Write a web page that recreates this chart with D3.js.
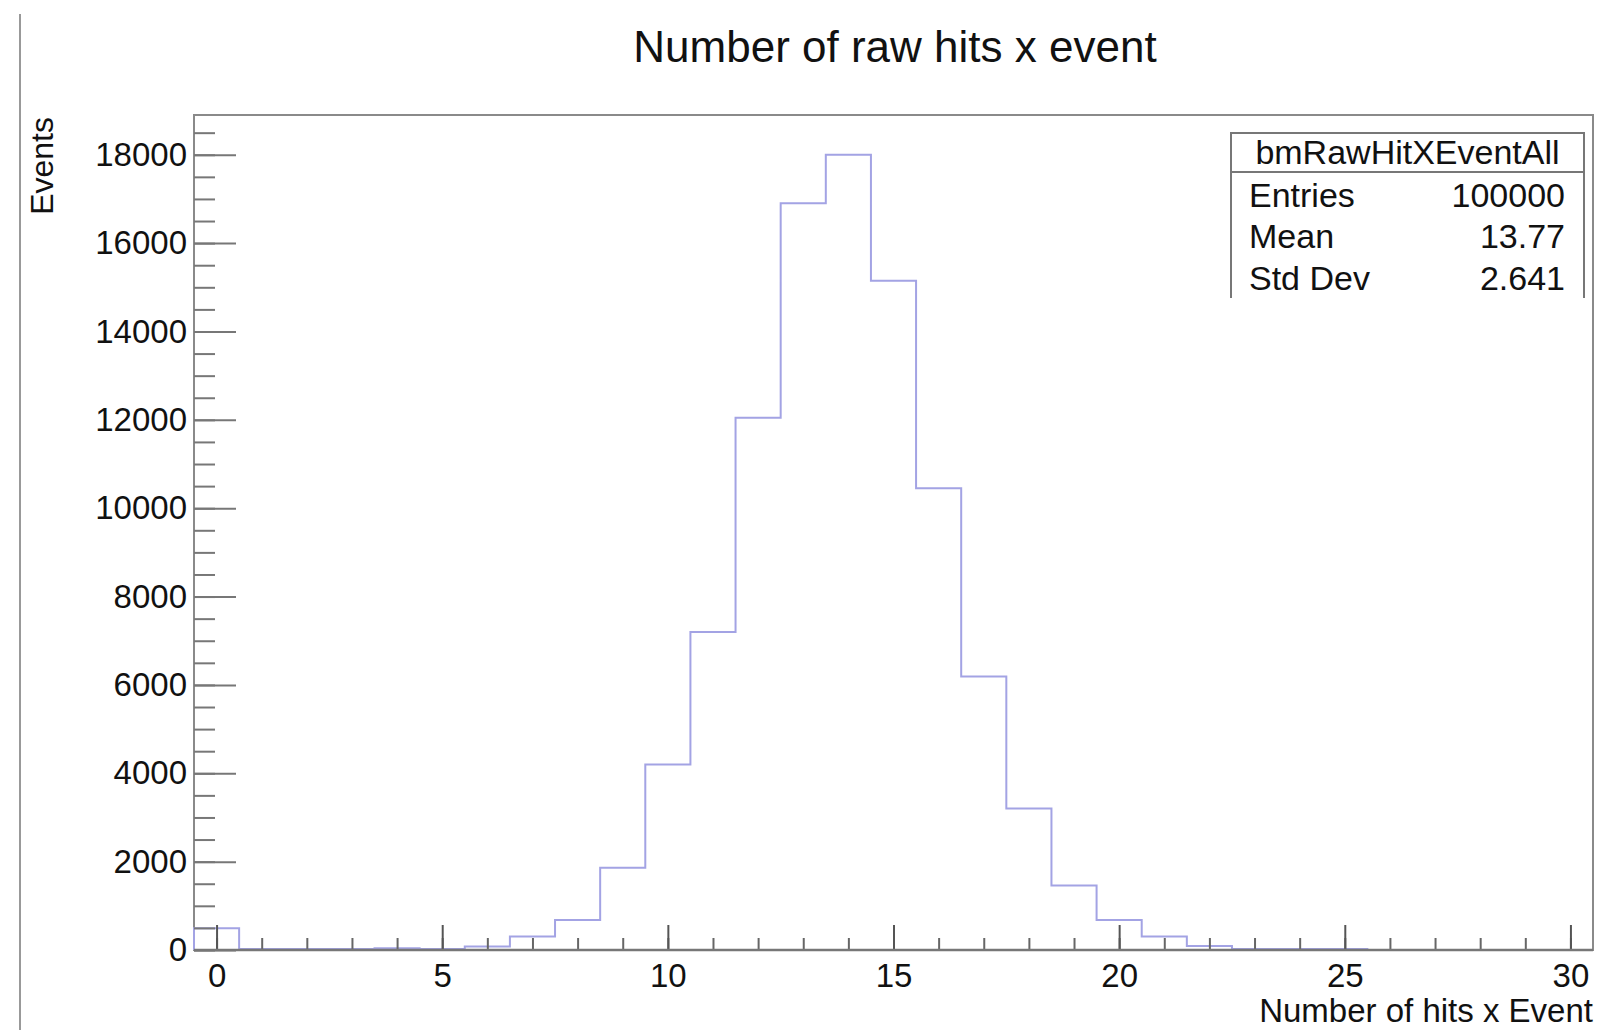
<!DOCTYPE html>
<html>
<head>
<meta charset="utf-8">
<script src="https://cdn.jsdelivr.net/npm/d3@7"></script>
<style>
  body { margin: 0; background: #fff; }
  svg { display: block; font-family: "Liberation Sans", Arial, Helvetica, sans-serif; }
</style>
</head>
<body>
<div id="chart"></div>
<script>
// Histogram bins (bin centres) and counts
const binCenters = d3.range(0, 31);
const counts = [490, 20, 20, 20, 40, 20, 80, 305, 680, 1860,
  4200, 7200, 12050, 16900, 18000, 15150, 10450, 6190, 3200, 1460,
  680, 305, 90, 25, 25, 25, 0, 0, 0, 0, 0];

const xMajorTicks = [0, 5, 10, 15, 20, 25, 30];
const xMinorTicks = d3.range(0, 31);
const yMajorTicks = d3.range(0, 18001, 2000);
const yMinorTicks = d3.range(0, 18901, 500);

const statsTitle = "bmRawHitXEventAll";
const statsRows = [["Entries", "100000"], ["Mean", "13.77"], ["Std Dev", "2.641"]];

const width = 1599, height = 1030;
const frame = { left: 194, right: 1593, top: 115, bottom: 950 };

const svg = d3.select("#chart").append("svg")
  .attr("width", width)
  .attr("height", height);

// Scales
const x = d3.scaleLinear().domain([-0.5, 30.5]).range([frame.left, frame.right]);
const y = d3.scaleLinear().domain([0, 18900]).range([frame.bottom, frame.top]);

// left page border line
svg.append("line")
  .attr("x1", 20).attr("x2", 20)
  .attr("y1", 14).attr("y2", height)
  .attr("stroke", "#999")
  .attr("stroke-width", 2);

// Title
svg.append("text")
  .attr("x", 895)
  .attr("y", 62)
  .attr("text-anchor", "middle")
  .style("font-size", "44px")
  .attr("fill", "#111")
  .text("Number of raw hits x event");

// Frame
svg.append("rect")
  .attr("x", frame.left)
  .attr("y", frame.top)
  .attr("width", frame.right - frame.left)
  .attr("height", frame.bottom - frame.top)
  .attr("fill", "none")
  .attr("stroke", "#8a8a8a")
  .attr("stroke-width", 2);

// Histogram outline
const pts = binCenters.map((c, i) => [c - 0.5, counts[i]]);
pts.unshift([-0.5, 0]);
pts.push([30.5, counts[counts.length - 1]]);
pts.push([30.5, 0]);

const line = d3.line()
  .x(d => x(d[0]))
  .y(d => y(d[1]))
  .curve(d3.curveStepAfter);

svg.append("path")
  .datum(pts)
  .attr("d", line)
  .attr("fill", "none")
  .attr("stroke", "#a3a3e4")
  .attr("stroke-width", 2);

// Minor ticks
svg.append("g")
  .attr("transform", `translate(${frame.left},0)`)
  .call(d3.axisLeft(y).tickValues(yMinorTicks).tickSize(-21).tickFormat(""))
  .call(g => g.select(".domain").remove())
  .selectAll("line").attr("stroke", "#777").attr("stroke-width", 2);

svg.append("g")
  .attr("transform", `translate(0,${frame.bottom})`)
  .call(d3.axisBottom(x).tickValues(xMinorTicks).tickSize(-12).tickFormat(""))
  .call(g => g.select(".domain").remove())
  .selectAll("line").attr("stroke", "#666").attr("stroke-width", 2);

// Major ticks + labels
const yAxis = svg.append("g")
  .attr("transform", `translate(${frame.left},0)`)
  .call(d3.axisLeft(y).tickValues(yMajorTicks).tickSize(-42).tickPadding(7).tickFormat(d3.format("d")))
  .call(g => g.select(".domain").remove());
yAxis.selectAll("line").attr("stroke", "#777").attr("stroke-width", 2);
yAxis.selectAll("text")
  .attr("fill", "#111")
  .style("font-size", "33px")
  .style("font-family", "'Liberation Sans', Arial, sans-serif");

const xAxis = svg.append("g")
  .attr("transform", `translate(0,${frame.bottom})`)
  .call(d3.axisBottom(x).tickValues(xMajorTicks).tickSize(-25).tickPadding(14).tickFormat(d3.format("d")))
  .call(g => g.select(".domain").remove());
xAxis.selectAll("line").attr("stroke", "#555").attr("stroke-width", 2);
xAxis.selectAll("text")
  .attr("fill", "#111")
  .style("font-size", "33px")
  .style("font-family", "'Liberation Sans', Arial, sans-serif");

// bottom axis line a bit darker
svg.append("line")
  .attr("x1", frame.left).attr("x2", frame.right)
  .attr("y1", frame.bottom).attr("y2", frame.bottom)
  .attr("stroke", "#777")
  .attr("stroke-width", 2.5);

// Axis titles
svg.append("text")
  .attr("x", frame.right)
  .attr("y", 1022)
  .attr("text-anchor", "end")
  .style("font-size", "33px")
  .attr("fill", "#111")
  .text("Number of hits x Event");

svg.append("text")
  .attr("transform", `translate(53,${frame.top + 2}) rotate(-90)`)
  .attr("text-anchor", "end")
  .style("font-size", "32px")
  .attr("fill", "#111")
  .text("Events");

// Stats box
const box = { x0: 1231, x1: 1584, y0: 133, ySep: 172, y1: 298 };
const stats = svg.append("g");
stats.append("rect")
  .attr("x", box.x0).attr("y", box.y0)
  .attr("width", box.x1 - box.x0).attr("height", box.y1 - box.y0)
  .attr("fill", "#fff");
stats.append("path")
  .attr("d", `M${box.x0},${box.y1}V${box.y0}H${box.x1}V${box.y1}`)
  .attr("fill", "none")
  .attr("stroke", "#777")
  .attr("stroke-width", 2);
stats.append("line")
  .attr("x1", box.x0).attr("x2", box.x1)
  .attr("y1", box.ySep).attr("y2", box.ySep)
  .attr("stroke", "#777")
  .attr("stroke-width", 2);
stats.append("text")
  .attr("x", (box.x0 + box.x1) / 2)
  .attr("y", 164)
  .attr("text-anchor", "middle")
  .style("font-size", "34px")
  .attr("fill", "#111")
  .text(statsTitle);

const rowBase = [207, 248, 290];
statsRows.forEach((r, i) => {
  stats.append("text")
    .attr("x", 1249)
    .attr("y", rowBase[i])
    .style("font-size", "34px")
    .attr("fill", "#111")
    .text(r[0]);
  stats.append("text")
    .attr("x", 1565)
    .attr("y", rowBase[i])
    .attr("text-anchor", "end")
    .style("font-size", "34px")
    .attr("fill", "#111")
    .text(r[1]);
});
</script>
</body>
</html>
